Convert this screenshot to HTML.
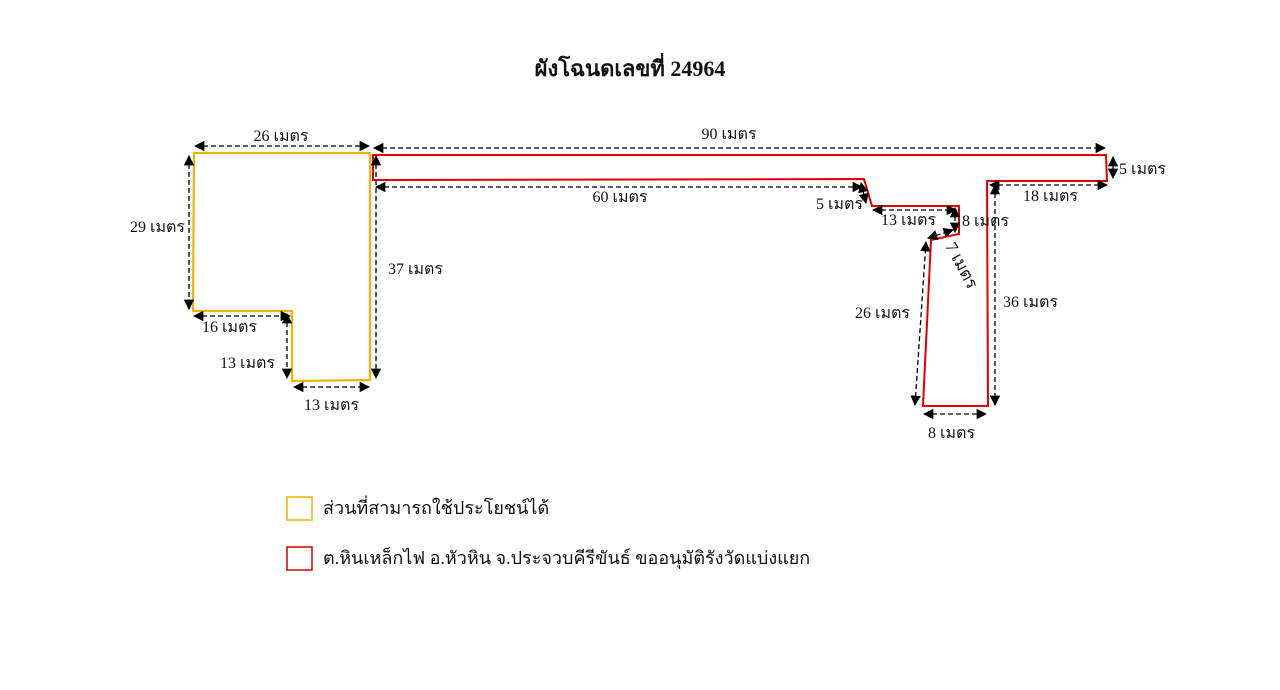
<!DOCTYPE html>
<html><head><meta charset="utf-8"><style>
html,body{margin:0;padding:0;background:#fff;width:1280px;height:690px;overflow:hidden}
svg text{font-family:"Liberation Serif",serif;fill:#111}
</style></head><body>
<svg width="1280" height="690" viewBox="0 0 1280 690" xmlns="http://www.w3.org/2000/svg">
<defs>
<marker id="a" viewBox="0 0 10 10" refX="9" refY="5" markerWidth="8" markerHeight="8" orient="auto-start-reverse"><path d="M0,0L10,5L0,10z" fill="#000"/></marker>
</defs>
<text x="630" y="76" font-size="22" font-weight="bold" text-anchor="middle">ผังโฉนดเลขที่ 24964</text>
<polygon points="194,153 370,153 370,380 292,381 292,311 193,311" fill="none" stroke="#f0b400" stroke-width="2.2"/>
<polygon points="373,155 1106,155 1107,181 987,181 988,406 923,406 931,240 959,234 959,206 872,206 864,179 373,180" fill="none" stroke="#e00000" stroke-width="2"/>
<g stroke="#000" stroke-width="1.3" stroke-dasharray="5,3" fill="none" marker-start="url(#a)" marker-end="url(#a)">
<line x1="195" y1="146" x2="369" y2="146"/>
<line x1="374" y1="148" x2="1105" y2="148"/>
<line x1="189" y1="156" x2="189" y2="309"/>
<line x1="376" y1="156" x2="376" y2="378"/>
<line x1="376" y1="187" x2="862" y2="187"/>
<line x1="194" y1="316" x2="290" y2="316"/>
<line x1="287" y1="314" x2="287" y2="378"/>
<line x1="294" y1="387" x2="369" y2="387"/>
<line x1="861" y1="183" x2="866" y2="203"/>
<line x1="873" y1="210" x2="956" y2="210"/>
<line x1="955" y1="208" x2="955" y2="232"/>
<line x1="928" y1="238" x2="953" y2="230"/>
<line x1="915" y1="405" x2="926" y2="242"/>
<line x1="995" y1="185" x2="995" y2="405"/>
<line x1="924" y1="414" x2="986" y2="414"/>
<line x1="990" y1="185" x2="1107" y2="185"/>
<line x1="1113" y1="157" x2="1113" y2="178"/>
</g>
<g font-size="16">
<text x="281" y="141" text-anchor="middle">26 เมตร</text>
<text x="729" y="139" text-anchor="middle">90 เมตร</text>
<text x="130" y="232">29 เมตร</text>
<text x="388" y="274">37 เมตร</text>
<text x="620" y="202" text-anchor="middle">60 เมตร</text>
<text x="202" y="332">16 เมตร</text>
<text x="220" y="368">13 เมตร</text>
<text x="304" y="410">13 เมตร</text>
<text x="816" y="209">5 เมตร</text>
<text x="881" y="225">13 เมตร</text>
<text x="962" y="226">8 เมตร</text>
<text x="0" y="0" font-size="17" transform="translate(945,246) rotate(62)">7 เมตร</text>
<text x="855" y="318">26 เมตร</text>
<text x="1003" y="307">36 เมตร</text>
<text x="928" y="438">8 เมตร</text>
<text x="1023" y="201">18 เมตร</text>
<text x="1119" y="174">5 เมตร</text>
</g>
<rect x="287" y="497" width="25" height="23" fill="none" stroke="#f0b400" stroke-width="1.5"/>
<text x="323" y="514" font-size="18">ส่วนที่สามารถใช้ประโยชน์ได้</text>
<rect x="287" y="547" width="25" height="23" fill="none" stroke="#d00000" stroke-width="1.5"/>
<text x="323" y="564" font-size="18">ต.หินเหล็กไฟ อ.หัวหิน จ.ประจวบคีรีขันธ์ ขออนุมัติรังวัดแบ่งแยก</text>
</svg>
</body></html>
